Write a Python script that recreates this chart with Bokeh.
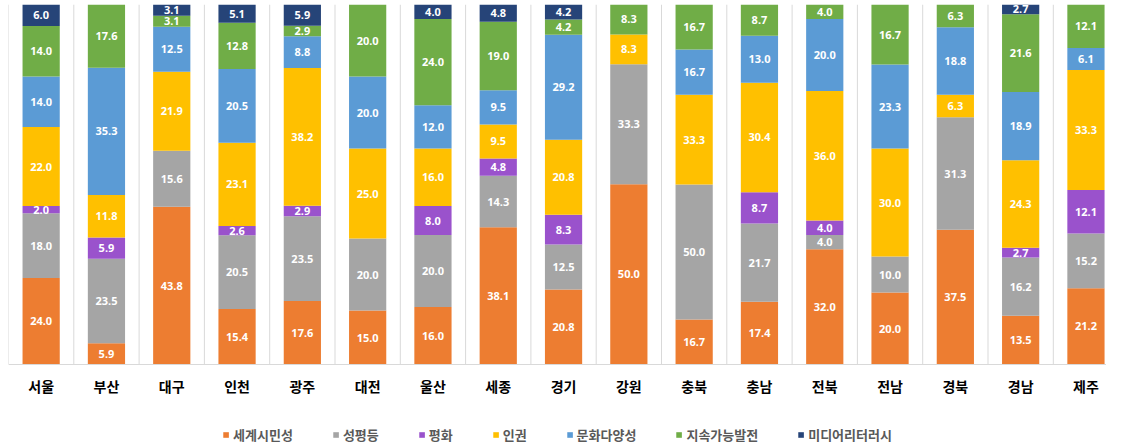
import numpy as np
from bokeh.plotting import figure
from bokeh.models import ColumnDataSource, FixedTicker, Legend, LegendItem, Range1d
from bokeh.core.properties import value
from bokeh.embed import file_html
from bokeh.resources import INLINE

regions = ["서울", "부산", "대구", "인천", "광주", "대전", "울산", "세종", "경기",
           "강원", "충북", "충남", "전북", "전남", "경북", "경남", "제주"]
series_names = ["세계시민성", "성평등", "평화", "인권", "문화다양성", "지속가능발전", "미디어리터러시"]
global_citizen = [24.0, 5.9, 43.8, 15.4, 17.6, 15.0, 16.0, 38.1, 20.8, 50.0, 16.7, 17.4, 32.0, 20.0, 37.5, 13.5, 21.2]
gender_equality = [18.0, 23.5, 15.6, 20.5, 23.5, 20.0, 20.0, 14.3, 12.5, 33.3, 50.0, 21.7, 4.0, 10.0, 31.3, 16.2, 15.2]
peace = [2.0, 5.9, 0, 2.6, 2.9, 0, 8.0, 4.8, 8.3, 0, 0, 8.7, 4.0, 0, 0, 2.7, 12.1]
human_rights = [22.0, 11.8, 21.9, 23.1, 38.2, 25.0, 16.0, 9.5, 20.8, 8.3, 33.3, 30.4, 36.0, 30.0, 6.3, 24.3, 33.3]
cultural_diversity = [14.0, 35.3, 12.5, 20.5, 8.8, 20.0, 12.0, 9.5, 29.2, 0, 16.7, 13.0, 20.0, 23.3, 18.8, 18.9, 6.1]
sustainable = [14.0, 17.6, 3.1, 12.8, 2.9, 20.0, 24.0, 19.0, 4.2, 8.3, 16.7, 8.7, 4.0, 16.7, 6.3, 21.6, 12.1]
media_literacy = [6.0, 0, 3.1, 5.1, 5.9, 0, 4.0, 4.8, 4.2, 0, 0, 0, 0, 0, 0, 2.7, 0]
colors = ["#ED7D31", "#A5A5A5", "#9A52CC", "#FFC000", "#5B9BD5", "#70AD47", "#264478"]

series = [global_citizen, gender_equality, peace, human_rights, cultural_diversity, sustainable, media_literacy]
vals = np.array(series, dtype=float)
totals = vals.sum(axis=0)
pct = vals / totals * 100.0  # 100% stacked

keys = [f"s{i}" for i in range(len(series))]
xs = np.arange(len(regions)) + 0.5
data = {"x": xs}
for k, row in zip(keys, pct):
    data[k] = row
src = ColumnDataSource(data)

FW = 1098
FH = 443
PX_PER_UNIT = 3.6
p = figure(frame_width=FW, frame_height=FH, output_backend="svg", toolbar_location=None,
           x_range=Range1d(0, FW / 65.3),
           y_range=Range1d(100 - FH / PX_PER_UNIT, 100),
           min_border_left=8, min_border_right=0, min_border_top=4, min_border_bottom=0)

# category separators (vertical gridlines limited to the plot band)
bounds = np.arange(len(regions) + 1)
p.segment(x0=bounds, x1=bounds, y0=np.zeros(len(bounds)), y1=np.full(len(bounds), 100.0),
          line_color="#d9d9d9", line_width=1)

renderers = p.vbar_stack(keys, x="x", width=0.57, color=colors, line_color=None, source=src)

# labels
lx, ly, lt = [], [], []
cum = np.cumsum(pct, axis=0)
for i in range(len(series)):
    for j in range(len(regions)):
        if vals[i, j] > 0:
            lx.append(xs[j])
            ly.append(cum[i, j] - pct[i, j] / 2)
            lt.append(f"{vals[i, j]:.1f}")
p.text(x=lx, y=ly, text=lt, text_color="white", text_align="center", text_baseline="middle",
       text_font=value("Noto Sans"), text_font_size="11px", text_font_style="bold")

p.xaxis.fixed_location = 0
p.xaxis.ticker = FixedTicker(ticks=list(xs))
p.xaxis.major_label_overrides = {float(x): r for x, r in zip(xs, regions)}
p.xaxis.major_tick_line_color = None
p.xaxis.minor_tick_line_color = None
p.xaxis.axis_line_color = "#d9d9d9"
p.xaxis.major_label_text_font = "Noto Sans CJK KR"
p.xaxis.major_label_text_font_size = "14px"
p.xaxis.major_label_text_font_style = "bold"
p.xaxis.major_label_text_color = "black"
p.xaxis.major_label_standoff = 5
p.yaxis.visible = False
p.xgrid.visible = False
p.ygrid.visible = False
p.outline_line_color = None

legend = Legend(items=[LegendItem(label=n, renderers=[r]) for n, r in zip(series_names, renderers)],
                orientation="horizontal", location="bottom_center",
                glyph_width=7, glyph_height=7, label_standoff=4, spacing=39,
                label_text_font="Noto Sans CJK KR", label_text_font_size="13px",
                label_text_font_style="bold",
                label_text_color="#595959", border_line_color=None, background_fill_alpha=0,
                padding=0, margin=3, label_height=14)
p.add_layout(legend, "center")

open("out.html", "w").write(file_html(p, INLINE))
